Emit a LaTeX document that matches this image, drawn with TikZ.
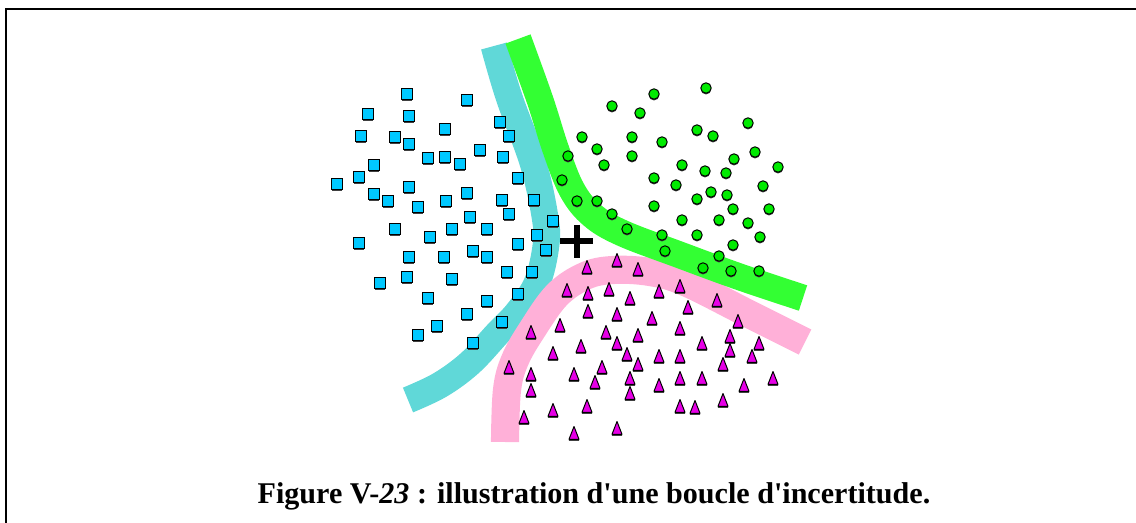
\documentclass[tikz,border=0pt]{standalone}
\usepackage{fontspec}
\setmainfont{Liberation Serif}
\usepackage{tikz}
\definecolor{bandcyan}{RGB}{96,216,216}
\definecolor{bandgreen}{RGB}{51,255,51}
\definecolor{bandpink}{RGB}{255,176,216}
\definecolor{sqblue}{RGB}{0,200,255}
\definecolor{dotgreen}{RGB}{0,235,0}
\definecolor{trimag}{RGB}{230,0,230}
\tikzstyle{band} = [line width=19pt, line cap=butt, line join=round]
\tikzstyle{sqmark} = [fill=sqblue, draw=black, line width=0.8pt]
\tikzstyle{dotmark} = [fill=dotgreen, draw=black, line width=0.7pt]
\tikzstyle{trimark} = [fill=trimag, draw=black, line width=0.7pt, line join=round]
\tikzstyle{shadow} = [fill=black!75]

\begin{document}
\begin{tikzpicture}[x={(0.025cm,0)}, y={(0,-0.025cm)}]
        \useasboundingbox (0,0) rectangle (1136,523);

        % Frame
        \draw[line width=1.8pt] (6,523) -- (6,9) -- (1136,9);

        % Bands
        \draw[band, bandcyan] plot[smooth, tension=0.6] coordinates
            {(494,46) (509,97) (533,163) (545,217) (546,245) (537,283)
             (518,312) (498,333) (470,363) (440,385) (408,400)};
        \draw[band, bandpink, line width=20pt] plot[smooth, tension=0.6] coordinates
            {(505,442) (507,390) (515,360) (532,330) (557,295) (585,276)
             (613,270) (650,272) (685,282) (747,313) (805,342)};
        \draw[band, bandgreen] plot[smooth, tension=0.6] coordinates
            {(518,39) (540,100) (556,150) (572,190) (592,215) (622,233)
             (680,255) (740,277) (803,298)};

        % Squares
        \foreach \x/\y in {407/94, 467/100, 368/114, 409/116, 500/122, 445/129,
            361/136, 395/137, 409/144, 509/136, 428/158, 445/157, 460/164,
            480/150, 503/157, 374/165, 359/177, 337/184, 409/187, 374/194,
            388/201, 418/207, 446/201, 467/193, 502/200, 518/178, 534/200,
            509/214, 470/217, 553/221, 395/229, 452/229, 487/229, 430/237,
            359/243, 409/257, 444/257, 473/251, 487/257, 518/244, 537/235,
            546/250, 407/277, 452/279, 380/283, 507/272, 532/272, 428/298,
            487/301, 518/294, 467/314, 502/322, 437/326, 418/335, 473/343}
        {
            \fill[shadow] (\x-5.2,\y-3.5) rectangle (\x+5.2,\y+6.7);
            \filldraw[sqmark] (\x-5.2,\y-5.2) rectangle (\x+5.2,\y+5.2);
        }

        % Circles
        \foreach \x/\y in {706/88, 654/94, 612/106, 640/113, 748/123, 697/130,
            713/136, 582/137, 632/137, 662/142, 597/149, 568/156, 632/156,
            755/152, 734/159, 682/165, 604/165, 778/167, 705/171, 726/173,
            654/178, 562/180, 676/185, 763/186, 711/192, 727/195, 697/199,
            577/201, 597/201, 769/209, 654/206, 733/209, 612/214, 682/220,
            719/220, 748/223, 627/229, 697/235, 662/235, 760/237, 733/245,
            665/251, 719/256, 703/268, 731/271, 759/271}
        {
            \fill[shadow] (\x,\y+1.3) circle (5.2);
            \filldraw[dotmark] (\x,\y) circle (5.2);
        }

        % Triangles
        \foreach \x/\y in {617/261, 587/268, 638/270, 680/287, 567/291, 588/294,
            609/290, 659/292, 630/299, 717/301, 688/308, 588/312, 617/315,
            652/319, 738/322, 560/326, 680/329, 531/333, 606/333, 638/336,
            730/337, 759/344, 702/344, 581/347, 617/344, 553/354, 627/355,
            730/351, 659/357, 680/357, 752/357, 723/365, 638/365, 602/368,
            509/368, 574/375, 531/375, 630/379, 680/379, 702/379, 773/379,
            595/383, 659/386, 744/386, 531/391, 630/394, 723/401, 553/411,
            587/407, 680/407, 695/408, 524/418, 617/429, 574/434}
        {
            \fill[shadow] (\x,\y-6) -- (\x+5.2,\y+6.8) -- (\x-5.2,\y+6.8) -- cycle;
            \filldraw[trimark] (\x,\y-7.5) -- (\x+5,\y+5.3) -- (\x-5,\y+5.3) -- cycle;
        }

        % Cross
        \draw[line width=3.6pt] (560,241) -- (593,241);
        \draw[line width=3.6pt] (577,225) -- (577,258);

        % Caption
        \node[font=\fontsize{21.4}{25}\selectfont\bfseries] (caption) at (594,496)
            {Figure V-\textit{23} : illustration d\textquotesingle une boucle
             d\textquotesingle incertitude.};
    \end{tikzpicture}
\end{document}
